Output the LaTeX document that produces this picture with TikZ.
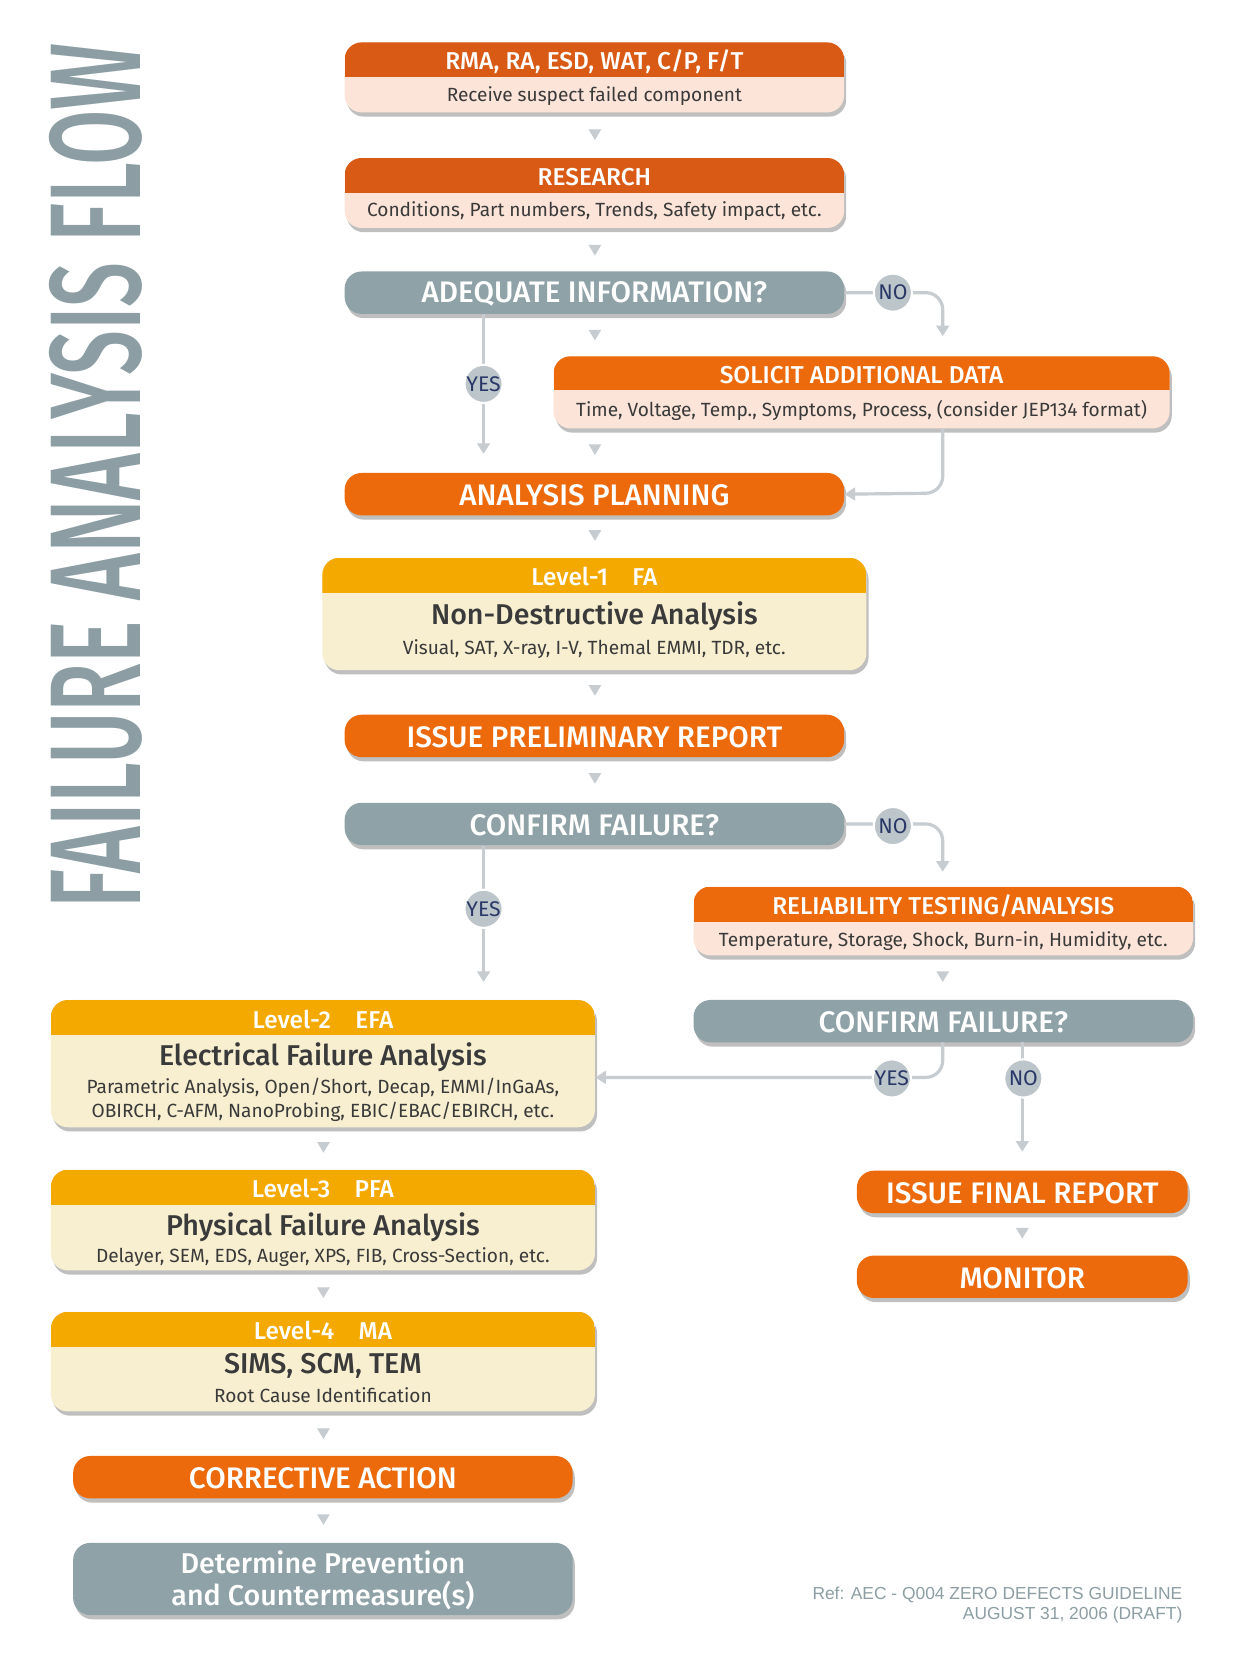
\documentclass[tikz,border=0pt]{standalone}
\usepackage{fontspec}
\setmainfont{Fira Sans}[BoldFont={Fira Sans Medium}]
\usetikzlibrary{shadows,fit,arrows.meta}
\definecolor{orA}{HTML}{D95A14}
\definecolor{orB}{HTML}{EC6A0C}
\definecolor{pinkb}{HTML}{FCE4D8}
\definecolor{grayb}{HTML}{8FA2A8}
\definecolor{yel}{HTML}{F4A900}
\definecolor{cream}{HTML}{F7EFD0}
\definecolor{conn}{HTML}{C6CCD0}
\definecolor{circ}{HTML}{BCC5CA}
\definecolor{navy}{HTML}{2A3868}
\definecolor{txt}{HTML}{3A3A3A}
\definecolor{ttl}{HTML}{8C9EA4}
\tikzset{
  shad/.style={drop shadow={shadow xshift=1pt,shadow yshift=-2pt,opacity=.25,fill=black}},
  hdr/.style={font=\fontsize{11.5}{12}\selectfont\bfseries, text=white},
  bdy/.style={font=\fontsize{9}{11.5}\selectfont, text=txt, align=center},
  big/.style={font=\fontsize{14}{15}\selectfont\bfseries, text=white, align=center},
  mid/.style={font=\fontsize{13.5}{14}\selectfont\bfseries, text=txt},
  conline/.style={draw=conn, line width=1.5pt, rounded corners=8, -{Triangle[length=5pt,width=6pt]}},
  lab/.style={circle, fill=circ, draw=white, line width=1pt, minimum size=18pt, inner sep=0, text=navy, font=\fontsize{10}{10}\selectfont},
  tri/.style={fill=conn}
}
\newcommand\onebox[6]{% name x1 y1 x2 y2 color
  \path[fill=#6, rounded corners=8, shad] (#2,#3) rectangle (#4,#5);
  \node[fit={(#2,#3)(#4,#5)}, inner sep=0] (#1) {};}
\newcommand\twobox[8]{% name x1 y1 x2 yh y2 hcol bcol
  \path[fill=#8, rounded corners=8, shad] (#2,#3) rectangle (#4,#6);
  \begin{scope}
    \clip[rounded corners=8] (#2,#3) rectangle (#4,#6);
    \fill[#7] (#2,#3) rectangle (#4,#5);
  \end{scope}
  \node[fit={(#2,#3)(#4,#6)}, inner sep=0] (#1) {};}
\newcommand\dtri[2]{\fill[tri] (#1-6,#2-5) -- (#1+6,#2-5) -- (#1,#2+5) -- cycle;}
\begin{document}
\begin{tikzpicture}[x=0.5pt,y=-0.5pt]
\useasboundingbox[fill=white] (0,0) rectangle (1180,1572);
% title
\node[rotate=90, text=ttl, inner sep=0] (title) at (90,449) {\resizebox{408pt}{43pt}{\fontsize{40}{40}\selectfont\bfseries FAILURE ANALYSIS FLOW}};
% boxes
\twobox{rma}{325}{40}{796}{73}{106}{orA}{pinkb}
\node[hdr] at (560.5,58) {RMA, RA, ESD, WAT, C/P, F/T};
\node[bdy] at (560.5,91) {Receive suspect failed component};
\twobox{res}{325}{149}{796}{182}{215}{orA}{pinkb}
\node[hdr] at (560.5,167) {RESEARCH};
\node[bdy] at (560.5,199) {Conditions, Part numbers, Trends, Safety impact, etc.};
\onebox{adq}{325}{256}{796}{296}{grayb}
\node[big] at (560.5,277) {ADEQUATE INFORMATION?};
\twobox{sol}{522}{336}{1103}{368}{404}{orB}{pinkb}
\node[hdr] at (812.5,354) {SOLICIT ADDITIONAL DATA};
\node[bdy] at (812.5,387) {Time, Voltage, Temp., Symptoms, Process, (consider JEP134 format)};
\onebox{plan}{325}{446}{796}{486}{orB}
\node[big] at (560.5,467) {ANALYSIS PLANNING};
\twobox{l1}{304}{526}{817}{559}{632}{yel}{cream}
\node[hdr] at (560.5,544) {Level-1\quad FA};
\node[mid] at (560.5,581) {Non-Destructive Analysis};
\node[bdy] at (560.5,612) {Visual, SAT, X-ray, I-V, Themal EMMI, TDR, etc.};
\onebox{pre}{325}{674}{796}{714}{orB}
\node[big] at (560.5,695) {ISSUE PRELIMINARY REPORT};
\onebox{cf1}{325}{757}{796}{797}{grayb}
\node[big] at (560.5,778) {CONFIRM FAILURE?};
\twobox{rel}{654}{836}{1125}{869}{901}{orB}{pinkb}
\node[hdr] at (889.5,854) {RELIABILITY TESTING/ANALYSIS};
\node[bdy] at (889.5,887) {Temperature, Storage, Shock, Burn-in, Humidity, etc.};
\onebox{cf2}{654}{943}{1125}{983}{grayb}
\node[big] at (889.5,964) {CONFIRM FAILURE?};
\twobox{l2}{48}{943}{561}{976}{1063}{yel}{cream}
\node[hdr] at (304.5,961) {Level-2\quad EFA};
\node[mid] at (304.5,997) {Electrical Failure Analysis};
\node[bdy] at (304.5,1037) {Parametric Analysis, Open/Short, Decap, EMMI/InGaAs,\\OBIRCH, C-AFM, NanoProbing, EBIC/EBAC/EBIRCH, etc.};
\twobox{l3}{48}{1103}{561}{1136}{1198}{yel}{cream}
\node[hdr] at (304.5,1121) {Level-3\quad PFA};
\node[mid] at (304.5,1157) {Physical Failure Analysis};
\node[bdy] at (304.5,1185) {Delayer, SEM, EDS, Auger, XPS, FIB, Cross-Section, etc.};
\twobox{l4}{48}{1237}{561}{1270}{1331}{yel}{cream}
\node[hdr] at (304.5,1255) {Level-4\quad MA};
\node[mid] at (304.5,1288) {SIMS, SCM, TEM};
\node[bdy] at (304.5,1316) {Root Cause Identification};
\onebox{cor}{69}{1373}{540}{1413}{orB}
\node[big] at (304.5,1394) {CORRECTIVE ACTION};
\onebox{det}{69}{1455}{540}{1523}{grayb}
\node[big, font=\fontsize{13.5}{15}\selectfont\bfseries] at (304.5,1490) {Determine Prevention\\and Countermeasure(s)};
\onebox{fin}{808}{1104}{1120}{1144}{orB}
\node[big] at (964,1125) {ISSUE FINAL REPORT};
\onebox{mon}{808}{1184}{1120}{1224}{orB}
\node[big] at (964,1205) {MONITOR};
% triangles
\dtri{561}{127}\dtri{561}{236}\dtri{561}{316}\dtri{561}{424}\dtri{561}{505}
\dtri{561}{651}\dtri{561}{734}\dtri{889}{921}\dtri{964}{1163}
\dtri{305}{1082}\dtri{305}{1219}\dtri{305}{1352}\dtri{305}{1433}
% connectors
\coordinate (n1e) at (889,317);
\draw[conline] (adq.east) -- (889,276) -- (n1e);
\node[lab] (no1) at (842,276) {NO};
\coordinate (y1e) at (456,428);
\draw[conline] (adq.south -| y1e) -- (y1e);
\node[lab] (yes1) at (456,362) {YES};
\draw[conline] (sol.south -| n1e) -- (889,465) -- (plan.east);
\coordinate (n2e) at (889,822);
\draw[conline] (cf1.east) -- (889,777) -- (n2e);
\node[lab] (no2) at (842,779) {NO};
\coordinate (y2e) at (456,926);
\draw[conline] (cf1.south -| y2e) -- (y2e);
\node[lab] (yes2) at (456,857) {YES};
\coordinate (c2y) at (889,983);
\draw[conline] (c2y) -- (889,1016) -- (l2.east |- 0,1016);
\node[lab] (yes3) at (841,1017) {YES};
\coordinate (c2n) at (964,983);
\draw[conline] (c2n) -- (964,1086);
\node[lab] (no3) at (965,1017) {NO};
% reference
\node[text=ttl, align=right, anchor=north east, font=\fontsize{8.2}{9.5}\selectfont] (ref) at (1122,1489)
  {\fontspec{Liberation Sans}Ref: AEC - Q004 ZERO DEFECTS GUIDELINE\\\fontspec{Liberation Sans}AUGUST 31, 2006 (DRAFT)};
\end{tikzpicture}
\end{document}
